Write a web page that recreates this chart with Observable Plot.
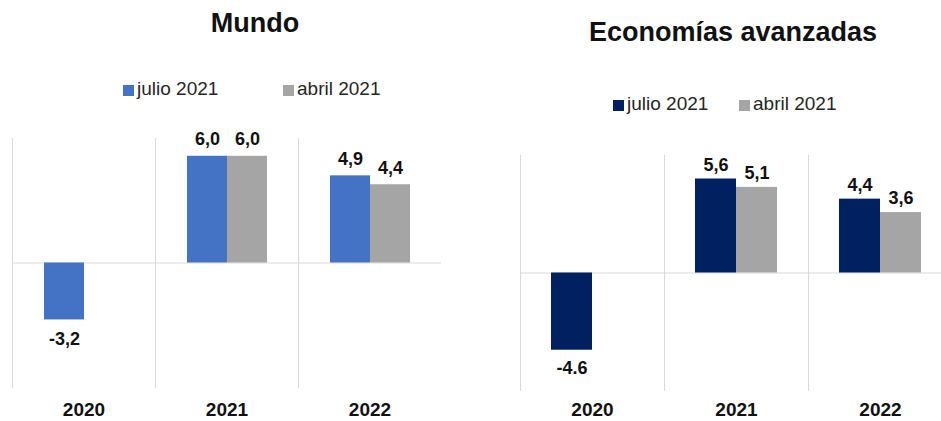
<!DOCTYPE html>
<html>
<head>
<meta charset="utf-8">
<script src="https://cdn.jsdelivr.net/npm/d3@7"></script>
<script src="https://cdn.jsdelivr.net/npm/@observablehq/plot@0.6"></script>
<style>
  html, body { margin: 0; padding: 0; background: #fff; }
  #wrap { position: relative; width: 941px; height: 421px; overflow: hidden; font-family: "Liberation Sans", Arial, sans-serif; color: #111; }
  .title { position: absolute; font-size: 27px; font-weight: bold; line-height: 27px; white-space: nowrap; transform: translateX(-50%); }
  .leg { position: absolute; font-size: 19px; line-height: 19px; white-space: nowrap; color: #262626; }
  .sw { position: absolute; width: 11px; height: 11px; }
  .panel { position: absolute; }
  .panel svg { max-width: none !important; }
</style>
</head>
<body>
<div id="wrap"></div>
<script>
// ---- data ----
const years = ["2020", "2021", "2022"];
const series = ["julio 2021", "abril 2021"];

const mundoJulio = [-3.2, 6.0, 4.9];
const mundoAbril = [null, 6.0, 4.4];
const mundoJulioLabels = ["-3,2", "6,0", "4,9"];
const mundoAbrilLabels = [null, "6,0", "4,4"];

const avanzJulio = [-4.6, 5.6, 4.4];
const avanzAbril = [null, 5.1, 3.6];
const avanzJulioLabels = ["-4.6", "5,6", "4,4"];
const avanzAbrilLabels = [null, "5,1", "3,6"];

const titles = ["Mundo", "Economías avanzadas"];
const julioColors = ["#4472C4", "#002060"];
const abrilColor = "#A5A5A5";

function rows(julio, abril, jl, al) {
  const out = [];
  years.forEach((yr, i) => {
    if (julio[i] != null) out.push({year: yr, serie: series[0], value: julio[i], label: jl[i]});
    if (abril[i] != null) out.push({year: yr, serie: series[1], value: abril[i], label: al[i]});
  });
  return out;
}

function panel(data, color, o) {
  const svg = Plot.plot({
    width: o.width, height: o.height,
    marginLeft: o.ml, marginRight: o.mr, marginTop: o.mt, marginBottom: o.mb,
    style: {fontFamily: '"Liberation Sans", Arial, sans-serif', color: "#111", background: "transparent"},
    fx: {domain: years, padding: 0, axis: null},
    x: {domain: series, paddingInner: 0, paddingOuter: 0.75, axis: null},
    y: {domain: [-7, 7], axis: null},
    color: {domain: series, range: [color, abrilColor]},
    marks: [
      Plot.frame({anchor: "left", stroke: "#d9d9d9"}),
      Plot.ruleY([0], {stroke: "#d9d9d9"}),
      Plot.barY(data, {fx: "year", x: "serie", y: "value", fill: "serie"}),
      Plot.text(data.filter(d => d.value >= 0), {fx: "year", x: "serie", y: "value", text: "label", dy: o.dyUp, fontSize: 18, fontWeight: "bold", fill: "#111"}),
      Plot.text(data.filter(d => d.value < 0), {fx: "year", x: "serie", y: "value", text: "label", dy: o.dyDown, fontSize: 18, fontWeight: "bold", fill: "#111"}),
      Plot.axisFx({anchor: "bottom", tickSize: 0, tickPadding: o.tp, fontSize: 19, fontWeight: "bold", label: null})
    ]
  });
  svg.style.maxWidth = "none";
  return svg;
}

const wrap = document.getElementById("wrap");

function addTitle(text, cx, top) {
  const d = document.createElement("div");
  d.className = "title"; d.textContent = text;
  d.style.left = cx + "px"; d.style.top = top + "px";
  wrap.appendChild(d);
}
function addLegend(items) {
  items.forEach(it => {
    const s = document.createElement("div");
    s.className = "sw"; s.style.left = it.sx + "px"; s.style.top = it.sy + "px"; s.style.background = it.color;
    wrap.appendChild(s);
    const t = document.createElement("div");
    t.className = "leg"; t.textContent = it.text; t.style.left = it.tx + "px"; t.style.top = it.ty + "px";
    wrap.appendChild(t);
  });
}
function addPanel(svg, left, top, w) {
  const d = document.createElement("div");
  d.className = "panel"; d.style.left = left + "px"; d.style.top = top + "px"; d.style.width = w + "px";
  d.appendChild(svg);
  wrap.appendChild(d);
}

// Left panel: Mundo
addTitle(titles[0], 255, 10);
addLegend([
  {text: series[0], color: julioColors[0], sx: 123, sy: 85, tx: 137, ty: 79},
  {text: series[1], color: abrilColor, sx: 283, sy: 85, tx: 297, ty: 79}
]);
addPanel(panel(rows(mundoJulio, mundoAbril, mundoJulioLabels, mundoAbrilLabels), julioColors[0],
  {width: 470, height: 321, ml: 11, mr: 29, mt: 38, mb: 34, dyUp: -17, dyDown: 19, tp: 15}), 0, 100, 470);

// Right panel: Economías avanzadas
addTitle(titles[1], 733, 19);
addLegend([
  {text: series[0], color: julioColors[1], sx: 613, sy: 100, tx: 627, ty: 94},
  {text: series[1], color: abrilColor, sx: 739, sy: 100, tx: 753, ty: 94}
]);
addPanel(panel(rows(avanzJulio, avanzAbril, avanzJulioLabels, avanzAbrilLabels), julioColors[1],
  {width: 482, height: 304, ml: 50, mr: 0, mt: 38, mb: 31, dyUp: -14, dyDown: 18, tp: 12}), 470, 117, 482);
</script>
</body>
</html>
